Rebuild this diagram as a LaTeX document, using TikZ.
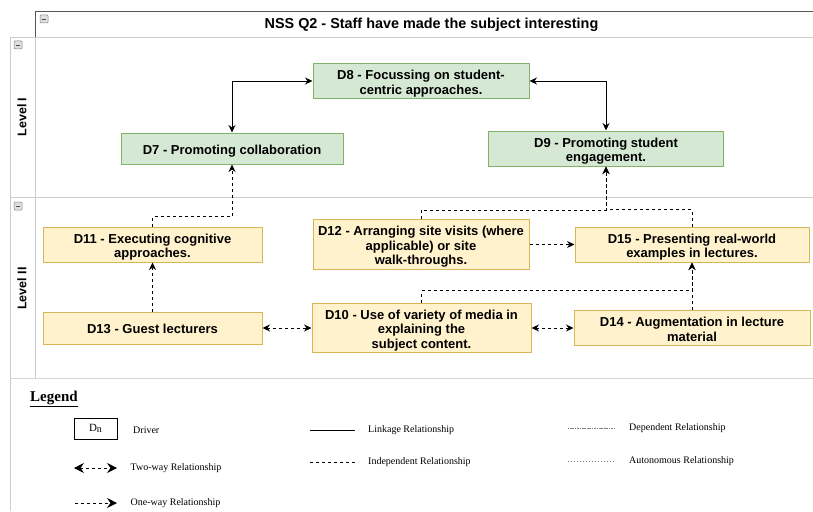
\documentclass[tikz,border=0pt]{standalone}
\usepackage{fontspec}
\setmainfont{Liberation Serif}
\newfontfamily\arialf{Liberation Sans}
\usetikzlibrary{arrows.meta}
\definecolor{gfill}{HTML}{D5E8D4}
\definecolor{gline}{HTML}{82B366}
\definecolor{yfill}{HTML}{FFF2CC}
\definecolor{yline}{HTML}{D6B656}
\definecolor{lanegray}{HTML}{CCCCCC}
\definecolor{pooldark}{HTML}{555555}
\newcommand{\dtx}[1]{\raisebox{0pt}[\dimexpr\height+6pt\relax][\depth]{\begin{tabular}{@{}c@{}}#1\end{tabular}}}
\tikzset{
  drv/.style={line width=1pt, align=center, inner sep=0pt,
    font=\arialf\bfseries\fontsize{13}{14.5}\selectfont},
  gdrv/.style={drv, fill=gfill, draw=gline},
  ydrv/.style={drv, fill=yfill, draw=yline},
  tip/.tip={Stealth[length=7.5pt,width=7pt]},
  link/.style={line width=0.9pt, tip-tip},
  dep/.style={line width=0.9pt, dash pattern=on 3pt off 3pt, -tip},
  twoway/.style={line width=0.9pt, dash pattern=on 3pt off 3pt, tip-tip},
  lanetxt/.style={rotate=90, font=\arialf\bfseries\fontsize{12.5}{14}\selectfont},
  collapse/.style={draw=gray, fill=gray!25, rounded corners=1pt, line width=0.5pt},
  legtxt/.style={anchor=west, font=\fontsize{10}{12}\selectfont, inner sep=0pt},
  legtip/.tip={Stealth[length=10pt,width=10pt,inset=3.5pt]},
}
\begin{document}
\begin{tikzpicture}[x=1pt,y=-1pt]
\useasboundingbox (0,0) rectangle (813,511);
% pool and lanes
\draw[lanegray, line width=0.8pt] (10,37) -- (813,37);
\draw[lanegray, line width=0.8pt] (10,197) -- (813,197);
\draw[lanegray, line width=0.8pt] (10,37) -- (10,511);
\draw[lanegray, line width=0.8pt] (35,37) -- (35,378);
\draw[lanegray!80, line width=1.6pt] (10,378.5) -- (813,378.5);
\draw[pooldark, line width=1pt] (35,37) -- (35,12) -- (813,12);
% collapse icons
\foreach \cx/\cy in {44/19, 18/45, 18/206}{
  \draw[collapse] (\cx-4,\cy-4) rectangle (\cx+4,\cy+4);
  \draw[black!70, line width=0.7pt] (\cx-2,\cy) -- (\cx+2,\cy);
}
\node[font=\arialf\bfseries\fontsize{14.4}{16}\selectfont] (title) at (431.5,25) {NSS Q2 - Staff have made the subject interesting};
\node[lanetxt] (lv1) at (22,117) {Level I};
\node[lanetxt] (lv2) at (22,288.5) {Level II};
% drivers
\node[gdrv, minimum width=216, minimum height=32] (d8) at (421,81) {\dtx{D8 - Focussing on student-\\centric approaches.}};
\node[gdrv, minimum width=222, minimum height=31] (d7) at (232,148.5) {\dtx{D7 - Promoting collaboration}};
\node[gdrv, minimum width=235, minimum height=31] (d9) at (606,148.5) {\dtx{D9 - Promoting student\\engagement.}};
\node[ydrv, minimum width=219, minimum height=33] (d11) at (152.5,244.5) {\dtx{D11 - Executing cognitive\\approaches.}};
\node[ydrv, minimum width=219, minimum height=32] (d13) at (152.5,328) {\dtx{D13 - Guest lecturers}};
\node[ydrv, minimum width=216, minimum height=49] (d12) at (421,244.5) {\dtx{D12 - Arranging site visits (where\\applicable) or site\\walk-throughs.}};
\node[ydrv, minimum width=234, minimum height=33] (d15) at (692,244.5) {\dtx{D15 - Presenting real-world\\examples in lectures.}};
\node[ydrv, minimum width=219, minimum height=48] (d10) at (421.5,328) {\dtx{D10 - Use of variety of media in\\explaining the\\subject content.}};
\node[ydrv, minimum width=236, minimum height=32] (d14) at (692,328) {\dtx{D14 - Augmentation in lecture\\material}};
% connectors
\draw[link] (d8.west) -| (d7.north);
\draw[link] (d8.east) -| (d9.north);
\draw[dep] (d11.north) -- ++(0,-10) -| (d7.south);
\draw[dep] (d13.north) -- (d11.south);
\draw[twoway] (d13.east) -- (d10.west);
\draw[dep] (d12.east) -- (d15.west);
\draw[twoway] (d10.east) -- (d14.west);
\draw[dep] (d12.north) -- ++(0,-9) -| (d9.south);
\draw[dep] (d15.north) -- ++(0,-17) -| (d9.south);
\draw[dep] (d10.north) -- ++(0,-12) -| (d15.south);
\draw[dep] (d14.north) -- (d15.south);
% legend
\node[anchor=west, inner sep=0pt, font=\bfseries\fontsize{15}{18}\selectfont] (leg) at (30,399) {\underline{Legend}};
\node[draw, line width=0.8pt, minimum width=43, minimum height=21, inner sep=0pt, font=\fontsize{11}{12}\selectfont] (lgd) at (95.5,428.5) {D\raisebox{-1.5pt}{\fontsize{10}{10}\selectfont n}};
\node[legtxt] (tdrv) at (133,430) {Driver};
\coordinate (tw1) at (74,468); \coordinate (tw2) at (117,468);
\draw[line width=0.8pt, dash pattern=on 3pt off 3pt, legtip-legtip] (tw1) -- (tw2);
\node[legtxt] (ttw) at (130.5,468) {Two-way Relationship};
\coordinate (ow1) at (75,503); \coordinate (ow2) at (117,503);
\draw[line width=0.8pt, dash pattern=on 3pt off 3pt, -legtip] (ow1) -- (ow2);
\node[legtxt] (tow) at (130.5,503) {One-way Relationship};
\coordinate (lk1) at (310,430); \coordinate (lk2) at (355,430);
\draw[line width=0.8pt] (lk1) -- (lk2);
\node[legtxt] (tlk) at (368,430.5) {Linkage Relationship};
\coordinate (in1) at (310,462); \coordinate (in2) at (355,462);
\draw[line width=0.8pt, dash pattern=on 3pt off 3pt] (in1) -- (in2);
\node[legtxt] (tin) at (368,462.5) {Independent Relationship};
\coordinate (dp1) at (568,428); \coordinate (dp2) at (615,428);
\draw[gray, line width=0.6pt, dash pattern=on 1.2pt off 0.5pt] (dp1) -- (dp2);
\node[legtxt] (tdp) at (629,428.5) {Dependent Relationship};
\coordinate (au1) at (568,461); \coordinate (au2) at (615,461);
\draw[gray, line width=0.6pt, dash pattern=on 0.9pt off 2.1pt] (au1) -- (au2);
\node[legtxt] (tau) at (629,461.5) {Autonomous Relationship};
\end{tikzpicture}
\end{document}
